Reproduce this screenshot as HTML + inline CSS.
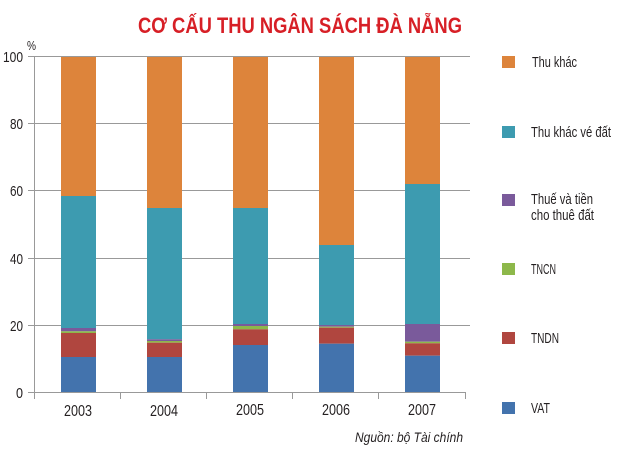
<!DOCTYPE html>
<html><head><meta charset="utf-8"><style>
html,body{margin:0;padding:0;background:#fff;width:620px;height:465px;overflow:hidden}
svg text{font-family:"Liberation Sans Narrow","Liberation Sans",sans-serif;fill:#231f20}
</style></head><body>
<svg width="620" height="465" viewBox="0 0 620 465" xmlns="http://www.w3.org/2000/svg">
<text x="138" y="33" font-size="22" font-weight="bold" style="fill:#d71f26" textLength="324" lengthAdjust="spacingAndGlyphs">CƠ CẤU THU NGÂN SÁCH ĐÀ NẴNG</text>
<text x="27" y="50" font-size="13" textLength="9" lengthAdjust="spacingAndGlyphs">%</text>
<g stroke="#999" stroke-width="1">
<line x1="34" y1="56.5" x2="470" y2="56.5"/><line x1="28" y1="56.5" x2="34" y2="56.5"/>
<line x1="28" y1="123.5" x2="470" y2="123.5"/>
<line x1="28" y1="190.5" x2="470" y2="190.5"/>
<line x1="28" y1="258.5" x2="470" y2="258.5"/>
<line x1="28" y1="325.5" x2="470" y2="325.5"/>
<line x1="28" y1="392.5" x2="466" y2="392.5"/>
<line x1="34.5" y1="56" x2="34.5" y2="399"/>
<line x1="120.5" y1="392" x2="120.5" y2="399"/>
<line x1="206.5" y1="392" x2="206.5" y2="399"/>
<line x1="292.5" y1="392" x2="292.5" y2="399"/>
<line x1="378.5" y1="392" x2="378.5" y2="399"/>
<line x1="465.5" y1="392" x2="465.5" y2="399"/>
</g>
<g font-size="15" lengthAdjust="spacingAndGlyphs">
<text x="3" y="62" textLength="20" lengthAdjust="spacingAndGlyphs">100</text>
<text x="10" y="129" textLength="13" lengthAdjust="spacingAndGlyphs">80</text>
<text x="10" y="196" textLength="13" lengthAdjust="spacingAndGlyphs">60</text>
<text x="10" y="264" textLength="13" lengthAdjust="spacingAndGlyphs">40</text>
<text x="10" y="331" textLength="13" lengthAdjust="spacingAndGlyphs">20</text>
<text x="16" y="398" textLength="7" lengthAdjust="spacingAndGlyphs">0</text>
</g>
<g>
<rect x="61" y="57" width="35" height="139" fill="#dd843b"/>
<rect x="61" y="196" width="35" height="132" fill="#3d9bb0"/>
<rect x="61" y="328" width="35" height="3.3" fill="#7a5a9b"/>
<rect x="61" y="331.3" width="35" height="1.7" fill="#8db84a"/>
<rect x="61" y="333" width="35" height="24" fill="#b0463f"/>
<rect x="61" y="357" width="35" height="35" fill="#4373ad"/>

<rect x="147" y="57" width="35" height="151" fill="#dd843b"/>
<rect x="147" y="208" width="35" height="131.3" fill="#3d9bb0"/>
<rect x="147" y="339.3" width="35" height="1.7" fill="#7a5a9b"/>
<rect x="147" y="341" width="35" height="1.7" fill="#8db84a"/>
<rect x="147" y="342.7" width="35" height="14.3" fill="#b0463f"/>
<rect x="147" y="357" width="35" height="35" fill="#4373ad"/>

<rect x="233" y="57" width="35" height="151" fill="#dd843b"/>
<rect x="233" y="208" width="35" height="116" fill="#3d9bb0"/>
<rect x="233" y="324" width="35" height="2" fill="#7a5a9b"/>
<rect x="233" y="326" width="35" height="3.3" fill="#8db84a"/>
<rect x="233" y="329.3" width="35" height="15.7" fill="#b0463f"/>
<rect x="233" y="345" width="35" height="47" fill="#4373ad"/>

<rect x="319" y="57" width="35" height="188" fill="#dd843b"/>
<rect x="319" y="245" width="35" height="80" fill="#3d9bb0"/>
<rect x="319" y="325" width="35" height="1.7" fill="#7a5a9b"/>
<rect x="319" y="326.7" width="35" height="1" fill="#8db84a"/>
<rect x="319" y="327.7" width="35" height="16" fill="#b0463f"/>
<rect x="319" y="343.7" width="35" height="48.3" fill="#4373ad"/>

<rect x="405" y="57" width="35" height="127" fill="#dd843b"/>
<rect x="405" y="184" width="35" height="140" fill="#3d9bb0"/>
<rect x="405" y="324" width="35" height="17.7" fill="#7a5a9b"/>
<rect x="405" y="341.7" width="35" height="1.6" fill="#8db84a"/>
<rect x="405" y="343.3" width="35" height="12.4" fill="#b0463f"/>
<rect x="405" y="355.7" width="35" height="36.3" fill="#4373ad"/>
</g>
<g font-size="16">
<text x="64" y="416" textLength="28" lengthAdjust="spacingAndGlyphs">2003</text>
<text x="150" y="416" textLength="28" lengthAdjust="spacingAndGlyphs">2004</text>
<text x="236" y="415" textLength="28" lengthAdjust="spacingAndGlyphs">2005</text>
<text x="322" y="415" textLength="28" lengthAdjust="spacingAndGlyphs">2006</text>
<text x="408" y="415" textLength="28" lengthAdjust="spacingAndGlyphs">2007</text>
</g>
<text x="355" y="442" font-size="14" font-style="italic" textLength="108" lengthAdjust="spacingAndGlyphs">Nguồn: bộ Tài chính</text>
<rect x="502" y="56" width="13" height="12" fill="#dd843b"/>
<rect x="502" y="126" width="13" height="12" fill="#3d9bb0"/>
<rect x="502" y="194" width="13" height="12" fill="#7a5a9b"/>
<rect x="502" y="263" width="13" height="12" fill="#8db84a"/>
<rect x="502" y="332" width="13" height="12" fill="#b0463f"/>
<rect x="502" y="402" width="13" height="12" fill="#4373ad"/>
<g font-size="15">
<text x="532" y="67" textLength="45" lengthAdjust="spacingAndGlyphs">Thu khác</text>
<text x="531" y="137" textLength="80" lengthAdjust="spacingAndGlyphs">Thu khác vé đất</text>
<text x="531" y="204" textLength="62" lengthAdjust="spacingAndGlyphs">Thuế và tiền</text>
<text x="531" y="220" textLength="63" lengthAdjust="spacingAndGlyphs">cho thuê đất</text>
<text x="531" y="274" textLength="25" lengthAdjust="spacingAndGlyphs">TNCN</text>
<text x="531" y="343" textLength="28" lengthAdjust="spacingAndGlyphs">TNDN</text>
<text x="531" y="413" textLength="19" lengthAdjust="spacingAndGlyphs">VAT</text>
</g>
</svg>
</body></html>
